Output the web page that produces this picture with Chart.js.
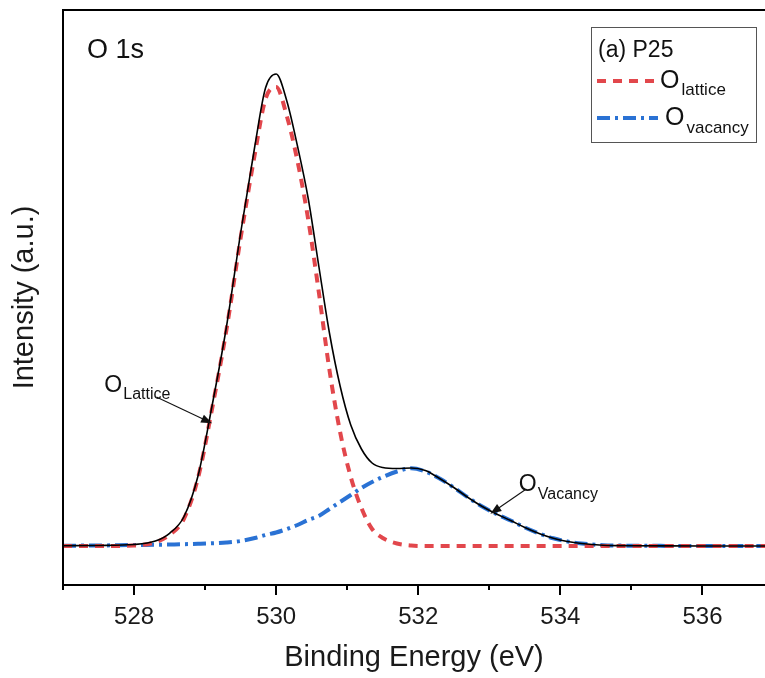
<!DOCTYPE html>
<html>
<head>
<meta charset="utf-8">
<script src="https://cdn.jsdelivr.net/npm/chart.js@4.4.1/dist/chart.umd.min.js"></script>
<style>
  html, body { margin: 0; padding: 0; background: #fff; }
  canvas { display: block; }
</style>
</head>
<body>
<canvas id="xps" width="765" height="678"></canvas>
<script>
// O 1s XPS spectrum of P25 with its two fitted components
const energy = [527.0, 527.5, 528.0, 528.3, 528.5, 528.7, 528.9, 529.1, 529.3, 529.5,
                529.7, 529.85, 530.0, 530.15, 530.3, 530.45, 530.6, 530.75, 530.9, 531.05,
                531.2, 531.35, 531.5, 531.7, 531.9, 532.1, 532.3, 532.5, 532.7, 532.9,
                533.1, 533.3, 533.5, 533.7, 533.9, 534.1, 534.3, 534.6, 535.0, 535.5,
                536.0, 536.5, 536.88];

// measured envelope
const envelope = [0.3, 0.5, 1.5, 5, 12.7, 29, 70, 141, 219, 313,
                  400, 458, 472, 445, 400, 348, 280, 213, 160, 121,
                  97, 83, 78.5, 77.5, 78, 75.5, 67.5, 58.5, 48.5, 39.5,
                  32, 25.5, 18.5, 12.5, 7.7, 4.5, 2.5, 0.8, 0.3, 0.1,
                  0, 0, 0];

// lattice oxygen component
const lattice = [0, 0, 0.5, 3.8, 11.2, 27, 68, 138, 216, 308,
                 392, 447, 459, 430, 385, 327, 254, 176, 114, 69,
                 38, 17, 8, 2.5, 0.5, 0, 0, 0, 0, 0,
                 0, 0, 0, 0, 0, 0, 0, 0, 0, 0,
                 0, 0, 0];

// oxygen vacancy component
const vacancy = [0.3, 0.5, 1.0, 1.2, 1.5, 1.8, 2.2, 2.7, 3.5, 5,
                 8, 11, 13.5, 17, 21, 26, 30, 37, 44, 51,
                 58, 64, 69, 74.5, 77.7, 74.5, 67.5, 58.5, 48.5, 39.5,
                 32, 25.5, 18.5, 12.5, 7.7, 4.5, 2.5, 0.8, 0.3, 0.1,
                 0, 0, 0];

const majorTicks = [528, 530, 532, 534, 536];
const minorTicks = [527, 529, 531, 533, 535];

// arrow callouts: where each arrow touches its curve
const latticeCallout = { energy: 529.06, value: 124 };
const vacancyCallout = { energy: 533.05, value: 34 };

const FONT = '"Liberation Sans", Arial, Helvetica, sans-serif';
const RED = '#e2474c';
const BLUE = '#2a72d4';

const toXY = vals => energy.map((e, i) => ({ x: e, y: vals[i] }));

function textWithSub(ctx, x, y, main, sub, mainSize, subSize, subDx, subDy) {
  ctx.font = mainSize + 'px ' + FONT;
  ctx.fillText(main, x, y);
  const w = ctx.measureText(main).width;
  ctx.font = subSize + 'px ' + FONT;
  ctx.fillText(sub, x + w + subDx, y + subDy);
}

function arrow(ctx, x0, y0, x1, y1) {
  ctx.lineWidth = 1.1;
  ctx.beginPath();
  ctx.moveTo(x0, y0);
  ctx.lineTo(x1, y1);
  ctx.stroke();
  const a = Math.atan2(y1 - y0, x1 - x0);
  const L = 11, W = 4.2;
  const tx = x1 + Math.cos(a) * 3, ty = y1 + Math.sin(a) * 3;
  ctx.beginPath();
  ctx.moveTo(tx, ty);
  ctx.lineTo(tx - Math.cos(a) * L - Math.sin(a) * W, ty - Math.sin(a) * L + Math.cos(a) * W);
  ctx.lineTo(tx - Math.cos(a) * L + Math.sin(a) * W, ty - Math.sin(a) * L - Math.cos(a) * W);
  ctx.closePath();
  ctx.fill();
}

const decorations = {
  id: 'decorations',
  afterDatasetsDraw(chart) {
    const { ctx, chartArea: area, scales: { x, y } } = chart;
    const L = Math.round(area.left), T = Math.round(area.top), B = Math.round(area.bottom);
    ctx.save();

    // frame: top, left and bottom axis lines
    ctx.strokeStyle = '#000';
    ctx.lineWidth = 2;
    ctx.beginPath();
    ctx.moveTo(area.right + 2, T);
    ctx.lineTo(L, T);
    ctx.lineTo(L, B);
    ctx.lineTo(area.right + 2, B);
    ctx.stroke();

    // outward tick marks on the energy axis
    ctx.lineWidth = 2;
    ctx.beginPath();
    majorTicks.forEach(v => {
      const px = Math.round(x.getPixelForValue(v));
      ctx.moveTo(px, B); ctx.lineTo(px, B + 10);
    });
    minorTicks.forEach(v => {
      const px = Math.round(x.getPixelForValue(v));
      ctx.moveTo(px, B); ctx.lineTo(px, B + 5);
    });
    ctx.stroke();

    ctx.fillStyle = '#111';
    ctx.strokeStyle = '#111';
    ctx.textBaseline = 'alphabetic';
    ctx.textAlign = 'left';

    // core level label
    ctx.font = '27px ' + FONT;
    ctx.fillText('O 1s', 87, 58);

    // callout: lattice oxygen
    const lx = x.getPixelForValue(latticeCallout.energy);
    const ly = y.getPixelForValue(latticeCallout.value);
    arrow(ctx, lx - 53, ly - 25, lx, ly);
    textWithSub(ctx, lx - 105, ly - 30, 'O', 'Lattice', 23, 16, 1, 7);

    // callout: oxygen vacancy
    const vx = x.getPixelForValue(vacancyCallout.energy);
    const vy = y.getPixelForValue(vacancyCallout.value);
    arrow(ctx, vx + 32, vy - 22, vx, vy);
    textWithSub(ctx, vx + 26, vy - 21, 'O', 'Vacancy', 23, 16, 1, 8);

    // legend box
    ctx.lineWidth = 1;
    ctx.strokeStyle = '#555';
    ctx.strokeRect(591.5, 27.5, 165, 115);
    ctx.fillStyle = '#111';
    ctx.font = '23px ' + FONT;
    ctx.fillText('(a) P25', 598, 57);

    ctx.lineWidth = 4;
    ctx.strokeStyle = RED;
    ctx.setLineDash([9, 7]);
    ctx.beginPath(); ctx.moveTo(597, 81); ctx.lineTo(660, 81); ctx.stroke();
    ctx.strokeStyle = BLUE;
    ctx.setLineDash([13, 5, 3, 5]);
    ctx.beginPath(); ctx.moveTo(597, 118); ctx.lineTo(658, 118); ctx.stroke();
    ctx.setLineDash([]);

    textWithSub(ctx, 660, 88, 'O', 'lattice', 25, 17, 2, 7);
    textWithSub(ctx, 665, 125, 'O', 'vacancy', 25, 17, 2, 8);

    ctx.restore();
  }
};

new Chart(document.getElementById('xps'), {
  type: 'line',
  data: {
    datasets: [
      {
        label: 'Envelope',
        data: toXY(envelope),
        borderColor: '#000',
        borderWidth: 1.6,
        pointRadius: 0,
        cubicInterpolationMode: 'monotone'
      },
      {
        label: 'O lattice',
        data: toXY(lattice),
        borderColor: RED,
        borderWidth: 4,
        borderDash: [9, 7],
        pointRadius: 0,
        cubicInterpolationMode: 'monotone'
      },
      {
        label: 'O vacancy',
        data: toXY(vacancy),
        borderColor: BLUE,
        borderWidth: 4,
        borderDash: [13, 5, 3, 5],
        pointRadius: 0,
        cubicInterpolationMode: 'monotone'
      }
    ]
  },
  options: {
    responsive: false,
    devicePixelRatio: 1,
    animation: false,
    layout: { padding: { top: 10, right: 0, left: 0, bottom: 0 } },
    plugins: { legend: { display: false }, tooltip: { enabled: false } },
    scales: {
      x: {
        type: 'linear',
        min: 527,
        max: 536.88,
        grid: { display: false, drawTicks: false },
        border: { display: false },
        afterBuildTicks: s => {
          s.ticks = minorTicks.concat(majorTicks)
            .sort((a, b) => a - b)
            .map(v => ({ value: v }));
        },
        ticks: {
          autoSkip: false,
          maxRotation: 0,
          padding: 18,
          color: '#1a1a1a',
          font: { family: FONT, size: 24 },
          callback: v => (majorTicks.includes(v) ? String(v) : '')
        },
        title: {
          display: true,
          text: 'Binding Energy (eV)',
          color: '#1a1a1a',
          font: { family: FONT, size: 29 },
          padding: { top: 0, bottom: 3 }
        },
        afterFit: s => { s.height = 93; }
      },
      y: {
        min: -39,
        max: 536,
        grid: { display: false, drawTicks: false },
        border: { display: false },
        ticks: { display: false },
        title: {
          display: true,
          text: 'Intensity (a.u.)',
          color: '#1a1a1a',
          font: { family: FONT, size: 29 },
          padding: { top: 8, bottom: 0 }
        },
        afterFit: s => { s.width = 63; }
      }
    }
  },
  plugins: [decorations]
});
</script>
</body>
</html>
